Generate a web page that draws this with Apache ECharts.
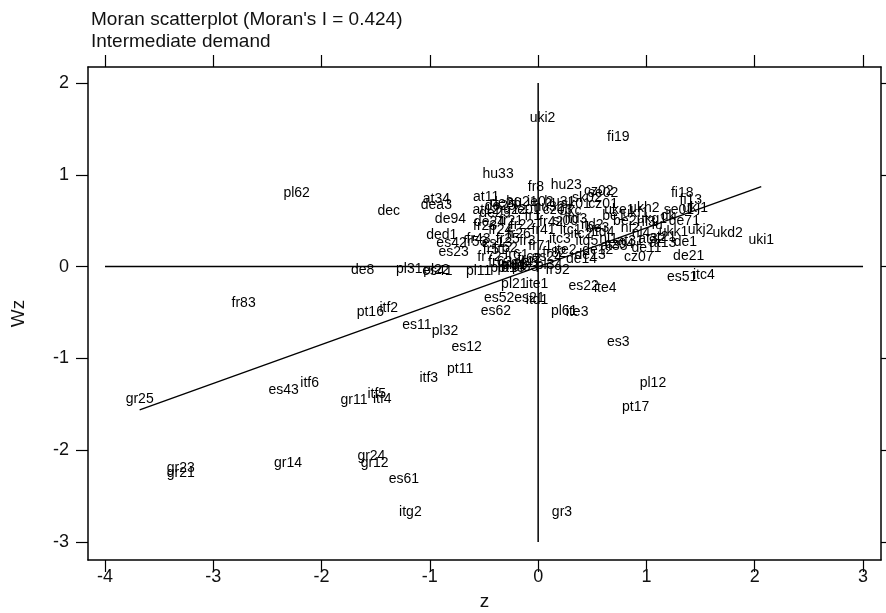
<!DOCTYPE html>
<html>
<head>
<meta charset="utf-8">
<script src="https://cdn.jsdelivr.net/npm/echarts@6/dist/echarts.min.js"></script>
<style>
  html, body { margin: 0; padding: 0; background: #fff; }
  #chart { width: 886px; height: 613px; }
</style>
</head>
<body>
<div id="chart"></div>
<script>
// 区域名称、z 值与空间滞后 Wz 值
const pointNames = [
  "uki2", "fi19", "hu33", "fr8", "hu23", "cz02", "se02", "fi18", "fi13", "ukh2",
  "de71", "ukd2", "uki1", "de1", "at13", "cz04", "cz07", "de21",
  "pl62", "dec", "at34", "dea3", "de94", "ded1", "es42", "es23",
  "at11", "de26", "at12", "fr23", "fr43",
  "de8", "pl31", "pl22", "es41", "pl11", "pl51", "pl63", "pl41", "fr92",
  "pl21", "ite1", "es52", "es21", "itd1", "es62", "es22", "ite4", "pl61", "ite3",
  "es3", "es51", "itc4", "pl12", "pt17",
  "fr83", "pt16", "itf2", "es11", "pl32", "es12", "pt11", "itf3",
  "gr25", "es43", "itf6", "gr11", "itf5", "itf4",
  "gr23", "gr21", "gr14", "gr24", "gr12", "es61", "itg2", "gr3",
  // 中心密集区
  "fr1", "fr21", "fr22", "fr24", "fr25", "fr26", "fr3", "fr41", "fr42", "fr51",
  "fr52", "fr53", "fr61", "fr62", "fr63", "fr71", "fr72", "fr81", "fr82", "es13",
  "es24", "pt15", "pl33", "pl34", "itc1", "itc2", "itc3", "itd2", "itd3", "itd4",
  "itd5", "ite2", "ukc", "be1", "be2", "be3", "nl1", "nl2", "nl3", "nl4",
  "lu", "dk", "se01", "uke1", "ukf1", "ukg1", "ukj1", "ukj2", "ukk1", "at21",
  "at31", "at32", "at33", "de11", "de12", "de13", "de14", "cz01", "cz03", "hu32",
  "hu31", "sk01", "sk02", "si00", "ie01", "ie02", "hu21", "hu22", "de23", "de24",
  "de25"
];
const pointZ = [
  0.04, 0.74, -0.37, -0.02, 0.26, 0.56, 0.60, 1.33, 1.41, 0.98,
  1.35, 1.75, 2.06, 1.36, 1.15, 0.75, 0.93, 1.39,
  -2.23, -1.38, -0.94, -0.94, -0.81, -0.89, -0.80, -0.78,
  -0.48, -0.30, -0.48, -0.49, -0.55,
  -1.62, -1.19, -0.94, -0.93, -0.55, -0.32, -0.22, -0.10, 0.18,
  -0.22, -0.01, -0.36, -0.08, -0.01, -0.39, 0.42, 0.62, 0.24, 0.36,
  0.74, 1.33, 1.53, 1.06, 0.90,
  -2.72, -1.55, -1.38, -1.12, -0.86, -0.66, -0.72, -1.01,
  -3.68, -2.35, -2.11, -1.70, -1.49, -1.44,
  -3.30, -3.30, -2.31, -1.54, -1.51, -1.24, -1.18, 0.22,
  -0.05, -0.25, -0.15, -0.35, -0.28, -0.18, -0.10, 0.05, 0.12, -0.40,
  -0.30, -0.58, -0.20, -0.08, -0.35, 0.02, -0.45, -0.22, 0.15, -0.38,
  0.08, -0.25, -0.12, 0.10, 0.30, 0.40, 0.20, 0.50, 0.35, 0.60,
  0.45, 0.25, 0.30, 0.70, 0.80, 0.55, 0.65, 0.85, 1.00, 0.95,
  1.10, 1.20, 1.30, 0.75, 0.90, 1.05, 1.45, 1.50, 1.25, 1.15,
  0.85, 1.05, 0.70, 1.00, 0.55, 0.48, 0.40, 0.60, 0.18, 0.10,
  0.20, 0.35, 0.45, 0.25, -0.10, 0.02, -0.15, -0.25, -0.40, -0.45,
  -0.35
];
const pointWz = [
  1.62, 1.41, 1.01, 0.86, 0.89, 0.82, 0.80, 0.80, 0.72, 0.64,
  0.50, 0.36, 0.29, 0.27, 0.26, 0.24, 0.10, 0.11,
  0.80, 0.60, 0.73, 0.67, 0.52, 0.34, 0.25, 0.16,
  0.76, 0.69, 0.61, 0.44, 0.30,
  -0.04, -0.03, -0.04, -0.05, -0.05, -0.02, 0.02, 0.04, -0.04,
  -0.19, -0.19, -0.34, -0.34, -0.37, -0.49, -0.21, -0.23, -0.48, -0.50,
  -0.82, -0.12, -0.09, -1.27, -1.53,
  -0.40, -0.50, -0.45, -0.64, -0.70, -0.88, -1.12, -1.22,
  -1.44, -1.35, -1.27, -1.46, -1.39, -1.44,
  -2.19, -2.25, -2.14, -2.07, -2.14, -2.31, -2.68, -2.68,
  0.55, 0.50, 0.45, 0.40, 0.30, 0.35, 0.28, 0.40, 0.48, 0.18,
  0.20, 0.27, 0.12, 0.08, 0.05, 0.22, 0.10, 0.02, 0.15, 0.25,
  0.10, -0.02, -0.01, 0.02, 0.40, 0.35, 0.30, 0.45, 0.52, 0.38,
  0.28, 0.18, 0.60, 0.55, 0.50, 0.42, 0.30, 0.42, 0.48, 0.36,
  0.45, 0.55, 0.62, 0.62, 0.58, 0.52, 0.64, 0.40, 0.38, 0.32,
  0.28, 0.30, 0.22, 0.20, 0.18, 0.12, 0.08, 0.68, 0.62, 0.65,
  0.70, 0.68, 0.75, 0.50, 0.62, 0.70, 0.70, 0.62, 0.58, 0.48,
  0.66
];

// 回归线（斜率 = Moran's I）与象限参考线端点
const fitLine = [[-3.68, -1.56], [2.06, 0.87]];
const hLine = [[-4, 0], [3, 0]];
const vLine = [[0, -3], [0, 2]];

// 刻度
const xTicks = [-4, -3, -2, -1, 0, 1, 2, 3];
const yTicks = [-3, -2, -1, 0, 1, 2];

const fontFamily = "'Liberation Sans', Arial, sans-serif";

let scatterData = pointNames.map((name, i) => ({
  name: name,
  value: [pointZ[i], pointWz[i]],
}));

function refLine(data, width) {
  return {
    type: "line",
    data: data,
    symbol: "none",
    silent: true,
    lineStyle: { color: "#000", width: width },
  };
}

let axisBase = {
  axisLine: { show: true, onZero: false, lineStyle: { color: "#000", width: 1.5 } },
  axisTick: { show: true, inside: false, length: 12, lineStyle: { color: "#000", width: 1.2 } },
  splitLine: { show: false },
};

let chart = echarts.init(document.getElementById("chart"), null, { renderer: "canvas" });
let option = {
  animation: false,
  backgroundColor: "#fff",
  title: {
    text: "Moran scatterplot (Moran's I = 0.424)\nIntermediate demand",
    left: 86,
    top: 4,
    textStyle: { fontFamily: fontFamily, fontSize: 19, fontWeight: "normal", color: "#111", lineHeight: 22 },
  },
  // 关闭 v6 的自动外边界收缩，保持绘图区位置固定
  grid: { left: 88, top: 67, width: 793, height: 493, outerBoundsMode: "none", containLabel: false },
  xAxis: [
    Object.assign({}, axisBase, {
      type: "value",
      min: -4.157,
      max: 3.166,
      position: "bottom",
      name: "z",
      nameLocation: "middle",
      nameGap: 32,
      nameTextStyle: { fontFamily: fontFamily, fontSize: 19, color: "#111" },
      axisTick: Object.assign({}, axisBase.axisTick, { customValues: xTicks }),
      axisLabel: { customValues: xTicks, fontFamily: fontFamily, fontSize: 18, color: "#111", margin: 8 },
    }),
    Object.assign({}, axisBase, {
      type: "value",
      min: -4.157,
      max: 3.166,
      position: "top",
      axisTick: Object.assign({}, axisBase.axisTick, { customValues: xTicks }),
      axisLabel: { show: false },
    }),
  ],
  yAxis: [
    Object.assign({}, axisBase, {
      type: "value",
      min: -3.196,
      max: 2.174,
      position: "left",
      name: "Wz",
      nameLocation: "middle",
      nameGap: 60,
      nameRotate: 90,
      nameTextStyle: { fontFamily: fontFamily, fontSize: 19, color: "#111" },
      axisTick: Object.assign({}, axisBase.axisTick, { customValues: yTicks }),
      axisLabel: { customValues: yTicks, fontFamily: fontFamily, fontSize: 18, color: "#111", margin: 19 },
    }),
    Object.assign({}, axisBase, {
      type: "value",
      min: -3.196,
      max: 2.174,
      position: "right",
      axisTick: Object.assign({}, axisBase.axisTick, { customValues: yTicks }),
      axisLabel: { show: false },
    }),
  ],
  series: [
    refLine(hLine, 1.5),
    refLine(vLine, 1.5),
    refLine(fitLine, 1.4),
    {
      type: "scatter",
      data: scatterData,
      symbolSize: 1,
      itemStyle: { color: "transparent", opacity: 1 },
      label: {
        show: true,
        position: "inside",
        formatter: "{b}",
        fontFamily: fontFamily,
        fontSize: 14,
        color: "#000",
        opacity: 1,
        textBorderWidth: 0,
      },
      silent: true,
    },
  ],
};
chart.setOption(option);
</script>
</body>
</html>
